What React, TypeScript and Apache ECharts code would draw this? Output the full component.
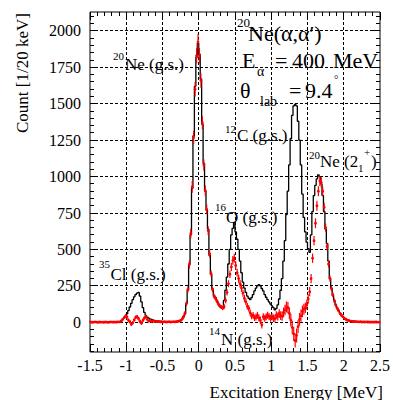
import React, { useEffect, useRef } from "react";
import * as echarts from "echarts";

const BIN_START = -1.5;
const BIN_WIDTH = 0.02;

// black histogram (simulation / total), counts per 20 keV bin, bins start at -1.5 MeV
const simCounts = [
  1, 0, 2, 1, 0, 1, 2, 1, 0, 1,
  1, 2, 1, 0, 1, 2, 1, 2, 3, 4,
  6, 10, 18, 28, 42, 58, 80, 105, 130, 155,
  175, 190, 200, 205, 180, 140, 100, 68, 48, 36,
  28, 22, 18, 14, 12, 10, 8, 7, 6, 5,
  5, 4, 4, 3, 4, 3, 3, 4, 4, 5,
  6, 8, 12, 20, 40, 60, 130, 220, 400, 600,
  920, 1280, 1620, 1820, 1916, 1840, 1670, 1360, 1090, 900,
  770, 640, 460, 330, 230, 185, 170, 150, 125, 110,
  100, 95, 150, 220, 310, 400, 500, 600, 645, 685,
  620, 570, 500, 420, 340, 275, 235, 205, 180, 165,
  155, 170, 190, 215, 235, 250, 258, 250, 232, 215,
  190, 172, 155, 140, 125, 112, 100, 85, 95, 120,
  160, 220, 300, 420, 560, 740, 900, 1080, 1260, 1420,
  1485, 1495, 1485, 1380, 1250, 1080, 880, 720, 620, 550,
  505, 480, 600, 760, 870, 940, 985, 1012, 1000, 950,
  870, 760, 640, 540, 420, 300, 235, 185, 150, 120,
  97, 78, 62, 48, 36, 27, 20, 15, 11, 9,
  7, 6, 5, 5, 4, 4, 3, 3, 3, 2,
  2, 3, 2, 2, 1, 2, 2, 1, 2, 1,
];

// red data points (subtracted spectrum)
const dataCounts = [
  2, 0, 1, 3, 1, 0, 2, 1, 1, 0,
  2, 1, 0, 1, 3, 1, 2, 1, 2, 3,
  3, 9, 20, 32, 42, 36, 15, 4, -14, -4,
  16, 34, 38, 24, 5, -6, 14, 30, 38, 20,
  8, 12, 6, 10, 5, 6, 4, 5, 3, 4,
  3, 4, 2, 3, 4, 2, 3, 4, 3, 5,
  6, 9, 13, 22, 38, 62, 128, 225, 395, 610,
  930, 1270, 1600, 1830, 1925, 1830, 1660, 1370, 1080, 905,
  775, 630, 470, 335, 225, 180, 165, 145, 128, 112,
  105, 98, 108, 150, 205, 265, 330, 380, 425, 440,
  390, 340, 300, 265, 235, 200, 165, 140, 110, 95,
  65, 42, 48, 30, 36, 48, 30, 14, -18, 38,
  28, 38, 48, 40, 28, 38, 28, 26, 48, 40,
  60, 45, 42, 68, 85, 105, 100, 62, 15, -35,
  -80, -125, -90, -30, 20, 45, 75, 90, 100, 120,
  160, 210, 300, 440, 560, 680, 800, 900, 970, 960,
  900, 790, 650, 520, 400, 300, 232, 188, 148, 118,
  96, 80, 60, 47, 37, 26, 21, 14, 12, 8,
  7, 5, 6, 4, 4, 3, 4, 2, 3, 2,
  3, 2, 2, 1, 2, 1, 2, 2, 1, 1,
];

const dataErrors = [
  3, 3, 3, 3, 3, 3, 3, 3, 3, 3,
  3, 3, 3, 3, 3, 3, 3, 3, 3, 4,
  5, 6, 8, 10, 12, 12, 12, 12, 12, 12,
  12, 12, 12, 12, 12, 12, 12, 12, 12, 12,
  10, 8, 7, 6, 6, 5, 5, 5, 4, 4,
  4, 4, 4, 4, 4, 4, 4, 4, 4, 5,
  5, 6, 8, 10, 12, 15, 18, 22, 28, 34,
  40, 45, 50, 52, 54, 52, 50, 45, 40, 36,
  34, 30, 26, 22, 18, 16, 15, 14, 14, 13,
  14, 15, 18, 20, 22, 24, 26, 28, 30, 30,
  30, 28, 28, 26, 26, 24, 24, 22, 22, 22,
  22, 22, 22, 22, 24, 24, 24, 26, 24, 24,
  24, 24, 24, 24, 24, 24, 26, 26, 28, 28,
  30, 30, 32, 34, 36, 38, 40, 42, 44, 46,
  48, 48, 48, 46, 44, 42, 40, 38, 36, 34,
  32, 32, 32, 32, 32, 34, 34, 34, 34, 34,
  32, 30, 28, 26, 24, 22, 20, 18, 16, 14,
  12, 11, 10, 9, 8, 7, 6, 6, 5, 5,
  4, 4, 4, 4, 4, 4, 4, 4, 4, 4,
  4, 4, 4, 4, 4, 4, 4, 4, 4, 4,
];

const xMajorTicks = [-1.5, -1, -0.5, 0, 0.5, 1, 1.5, 2, 2.5];
const xMinorTicks = [
  -1.4, -1.3, -1.2, -1.1, -0.9, -0.8, -0.7, -0.6, -0.4, -0.3, -0.2, -0.1,
  0.1, 0.2, 0.3, 0.4, 0.6, 0.7, 0.8, 0.9, 1.1, 1.2, 1.3, 1.4,
  1.6, 1.7, 1.8, 1.9, 2.1, 2.2, 2.3, 2.4,
];
const yMajorTicks = [0, 250, 500, 750, 1000, 1250, 1500, 1750, 2000];
const yMinorTicks = [
  -200, -150, -100, -50, 50, 100, 150, 200, 300, 350, 400, 450, 550, 600, 650, 700,
  800, 850, 900, 950, 1050, 1100, 1150, 1200, 1300, 1350, 1400, 1450,
  1550, 1600, 1650, 1700, 1800, 1850, 1900, 1950, 2050, 2100,
];
const xGridValues = [-1, -0.5, 0, 0.5, 1, 1.5, 2];
const yGridValues = [0, 250, 500, 750, 1000, 1250, 1500, 1750, 2000];

const X_MIN = -1.5;
const X_MAX = 2.5;
const Y_MIN = -204;
const Y_MAX = 2130;

const FONT = "Liberation Serif";

// annotation pieces: [text, left x, middle y, font size]
const labels: [string, number, number, number][] = [
  ["20", 113, 56, 11],
  ["Ne (g.s.)", 125, 64.5, 17],
  ["20", 237, 22.5, 13],
  ["Ne(α,α′)", 248, 33, 22],
  ["E", 242, 60, 22],
  ["α", 257, 71, 14],
  ["=", 275, 60, 22],
  ["400", 292, 60, 22],
  ["MeV", 333, 60, 22],
  ["θ", 240, 90, 22],
  ["lab", 260, 101.5, 14],
  ["=", 289, 90, 22],
  ["9.4", 305, 90, 22],
  ["°", 334, 79, 11],
  ["12", 225, 129, 11],
  ["C (g.s.)", 237, 135, 17],
  ["20", 309, 155, 11],
  ["Ne (2", 320, 161, 17],
  ["1", 358, 168, 11],
  ["+", 364, 152, 11],
  [")", 371, 161, 17],
  ["16", 215, 207, 11],
  ["O (g.s.)", 226, 217, 17],
  ["35", 99, 264, 11],
  ["Cl (g.s.)", 110.5, 274, 17],
  ["14", 209, 331, 11],
  ["N (g.s.)", 221, 339.5, 17],
];

function crisp(v: number) {
  return Math.round(v - 0.5) + 0.5;
}

export default function App() {
  const ref = useRef<HTMLDivElement>(null);
  useEffect(() => {
    if (!ref.current) return;
    const chart = echarts.init(ref.current, null, { renderer: "svg" });

    const histLine: number[][] = [];
    simCounts.forEach((v, i) => {
      const x0 = BIN_START + BIN_WIDTH * i;
      histLine.push([x0, v]);
      histLine.push([x0 + BIN_WIDTH, v]);
    });

    const points = dataCounts.map((v, i) => [
      BIN_START + BIN_WIDTH * (i + 0.5),
      v,
      dataErrors[i],
    ]);

    const frameSeries = {
      type: "custom",
      coordinateSystem: "cartesian2d",
      silent: true,
      z: 1,
      data: [[0, 0]],
      renderItem: (params: any, api: any) => {
        if (params.dataIndex !== 0) return null;
        const cs = params.coordSys;
        const left = cs.x;
        const right = cs.x + cs.width;
        const top = cs.y;
        const bottom = cs.y + cs.height;
        const children: any[] = [];
        const dash = { stroke: "#000", lineWidth: 1, lineDash: [3, 2] };
        const tk = { stroke: "#000", lineWidth: 1 };
        xGridValues.forEach((v) => {
          const px = crisp(api.coord([v, 0])[0]);
          children.push({ type: "line", shape: { x1: px, y1: top, x2: px, y2: bottom }, style: dash });
        });
        yGridValues.forEach((v) => {
          const py = crisp(api.coord([0, v])[1]);
          children.push({ type: "line", shape: { x1: left, y1: py, x2: right, y2: py }, style: dash });
        });
        const xt = (vals: number[], len: number) =>
          vals.forEach((v) => {
            const px = crisp(api.coord([v, 0])[0]);
            children.push({ type: "line", shape: { x1: px, y1: bottom, x2: px, y2: bottom - len }, style: tk });
            children.push({ type: "line", shape: { x1: px, y1: top, x2: px, y2: top + len }, style: tk });
          });
        const yt = (vals: number[], len: number) =>
          vals.forEach((v) => {
            const py = crisp(api.coord([0, v])[1]);
            children.push({ type: "line", shape: { x1: left, y1: py, x2: left + len, y2: py }, style: tk });
            children.push({ type: "line", shape: { x1: right, y1: py, x2: right - len, y2: py }, style: tk });
          });
        xt(xMajorTicks, 8);
        xt(xMinorTicks, 4);
        yt(yMajorTicks, 8);
        yt(yMinorTicks, 4);
        return { type: "group", children };
      },
    };

    const pointSeries = {
      type: "custom",
      coordinateSystem: "cartesian2d",
      silent: true,
      z: 4,
      encode: { x: 0, y: 1 },
      data: points,
      renderItem: (_params: any, api: any) => {
        const x = api.value(0);
        const v = api.value(1);
        const e = api.value(2);
        const c = api.coord([x, v]);
        const t = api.coord([x, v + e]);
        const b = api.coord([x, v - e]);
        const hw = api.size([BIN_WIDTH / 2, 0])[0];
        const st = { stroke: "#ff0000", lineWidth: 1.2 };
        return {
          type: "group",
          children: [
            { type: "line", shape: { x1: c[0], y1: t[1], x2: c[0], y2: b[1] }, style: st },
            { type: "line", shape: { x1: c[0] - hw, y1: c[1], x2: c[0] + hw, y2: c[1] }, style: st },
            { type: "circle", shape: { cx: c[0], cy: c[1], r: 1.4 }, style: { fill: "#ff0000" } },
          ],
        };
      },
    };

    const graphics: any[] = labels.map(([text, x, y, size]) => ({
      type: "text",
      x,
      y,
      silent: true,
      style: {
        text,
        fill: "#000",
        fontFamily: FONT,
        fontSize: size,
        align: "left",
        verticalAlign: "middle",
      },
    }));
    graphics.push({
      type: "text",
      x: 22,
      y: 73,
      rotation: Math.PI / 2,
      silent: true,
      style: {
        text: "Count [1/20 keV]",
        fill: "#000",
        fontFamily: FONT,
        fontSize: 17,
        align: "center",
        verticalAlign: "middle",
      },
    });
    graphics.push({
      type: "text",
      x: 383,
      y: 392,
      silent: true,
      style: {
        text: "Excitation Energy [MeV]",
        fill: "#000",
        fontFamily: FONT,
        fontSize: 17,
        align: "right",
        verticalAlign: "middle",
      },
    });

    chart.setOption({
      animation: false,
      backgroundColor: "#fff",
      textStyle: { fontFamily: FONT },
      grid: {
        left: 90,
        top: 12,
        width: 293,
        height: 340,
        show: true,
        borderColor: "#000",
        borderWidth: 1,
        backgroundColor: "transparent",
      },
      xAxis: {
        type: "value",
        min: X_MIN,
        max: X_MAX,
        interval: 0.5,
        axisLine: { show: false },
        axisTick: { show: false },
        splitLine: { show: false },
        axisLabel: {
          color: "#000",
          fontFamily: FONT,
          fontSize: 16,
          margin: 5,
          formatter: (v: number) => String(v),
        },
      },
      yAxis: {
        type: "value",
        min: Y_MIN,
        max: Y_MAX,
        axisLine: { show: false },
        axisTick: { show: false },
        splitLine: { show: false },
        axisLabel: {
          customValues: yMajorTicks,
          color: "#000",
          fontFamily: FONT,
          fontSize: 16,
          margin: 9,
          formatter: (v: number) => String(v),
        },
      },
      series: [
        frameSeries,
        {
          type: "line",
          data: histLine,
          symbol: "none",
          silent: true,
          z: 3,
          lineStyle: { color: "#000", width: 1.3 },
        },
        pointSeries,
      ],
      graphic: graphics,
    });
    return () => chart.dispose();
  }, []);
  return (
    <div
      ref={ref}
      style={{ position: "absolute", left: 0, top: 0, width: 393, height: 400, background: "#fff" }}
    />
  );
}
